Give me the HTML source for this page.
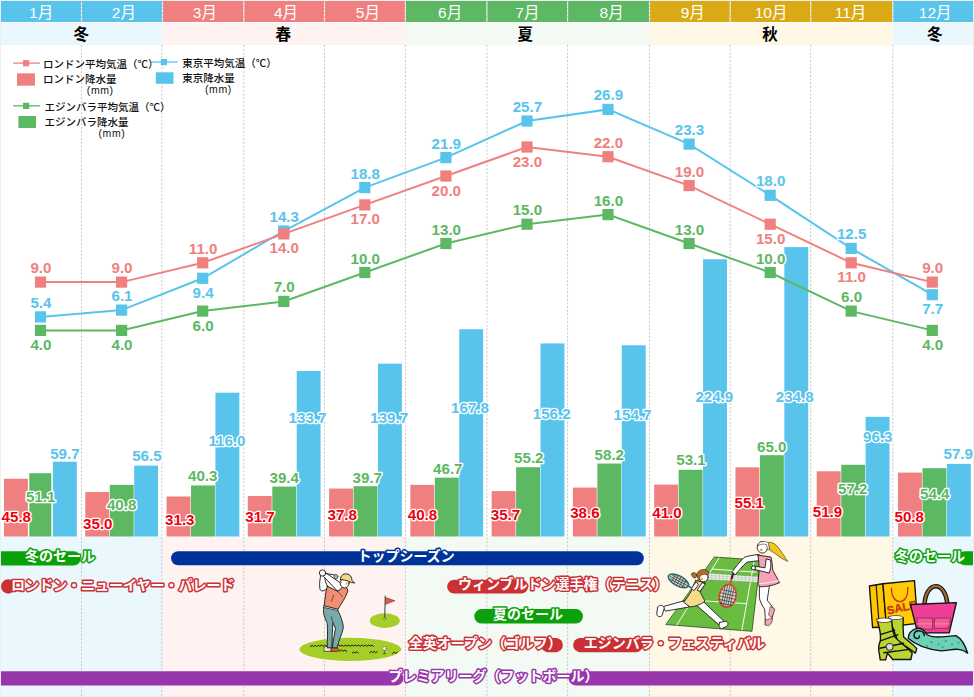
<!DOCTYPE html>
<html lang="ja">
<head>
<meta charset="utf-8">
<title>ロンドン・エジンバラ・東京 気温と降水量 / ベストシーズン</title>
<style>
html,body{margin:0;padding:0;background:#fff;}
body{width:974px;height:697px;overflow:hidden;font-family:"Liberation Sans",sans-serif;}
svg{display:block;}
</style>
</head>
<body>
<svg width="974" height="697" viewBox="0 0 974 697" role="img" aria-label="Monthly temperature and precipitation chart for London, Edinburgh and Tokyo with seasonal events">
<rect x="0" y="0" width="974" height="697" fill="#fff"/>
<rect x="1.0" y="1" width="161.6" height="21" fill="#58c4ec"/>
<rect x="1.0" y="23" width="161.6" height="22" fill="#eaf8fe"/>
<rect x="1.0" y="536.5" width="161.6" height="159.5" fill="#eaf8fe"/>
<rect x="162.6" y="1" width="242.8" height="21" fill="#f08080"/>
<rect x="162.6" y="23" width="242.8" height="22" fill="#fff3f2"/>
<rect x="162.6" y="536.5" width="242.8" height="159.5" fill="#fff3f2"/>
<rect x="405.4" y="1" width="244.2" height="21" fill="#5cb863"/>
<rect x="405.4" y="23" width="244.2" height="22" fill="#f3faf3"/>
<rect x="405.4" y="536.5" width="244.2" height="159.5" fill="#f3faf3"/>
<rect x="649.6" y="1" width="243.0" height="21" fill="#d9aa15"/>
<rect x="649.6" y="23" width="243.0" height="22" fill="#fff8e6"/>
<rect x="649.6" y="536.5" width="243.0" height="159.5" fill="#fff8e6"/>
<rect x="892.6" y="1" width="80.4" height="21" fill="#58c4ec"/>
<rect x="892.6" y="23" width="80.4" height="22" fill="#eaf8fe"/>
<rect x="892.6" y="536.5" width="80.4" height="159.5" fill="#eaf8fe"/>
<rect x="0" y="0" width="974" height="1" fill="#f1f1f1"/>
<rect x="0" y="0" width="1" height="697" fill="#eeeeee"/>
<rect x="973" y="0" width="1" height="697" fill="#eeeeee"/>
<rect x="0" y="696" width="974" height="1" fill="#eeeeee"/>
<line x1="81.5" y1="1" x2="81.5" y2="22" stroke="#fff" stroke-width="1.1"/>
<line x1="81.5" y1="1" x2="81.5" y2="22" stroke="#999" stroke-opacity=".5" stroke-width="1" stroke-dasharray="2 1.73"/>
<line x1="81.5" y1="45" x2="81.5" y2="696" stroke="#c6c6c6" stroke-width="1" stroke-dasharray="2 1.73"/>
<line x1="162.5" y1="1" x2="162.5" y2="22" stroke="#fff" stroke-width="1.1"/>
<line x1="162.5" y1="1" x2="162.5" y2="22" stroke="#999" stroke-opacity=".5" stroke-width="1" stroke-dasharray="2 1.73"/>
<line x1="161.9" y1="45" x2="161.9" y2="696" stroke="#c6c6c6" stroke-width="1" stroke-dasharray="2 1.73"/>
<line x1="243.8" y1="1" x2="243.8" y2="22" stroke="#fff" stroke-width="1.1"/>
<line x1="243.8" y1="1" x2="243.8" y2="22" stroke="#999" stroke-opacity=".5" stroke-width="1" stroke-dasharray="2 1.73"/>
<line x1="243.8" y1="45" x2="243.8" y2="696" stroke="#c6c6c6" stroke-width="1" stroke-dasharray="2 1.73"/>
<line x1="324.5" y1="1" x2="324.5" y2="22" stroke="#fff" stroke-width="1.1"/>
<line x1="324.5" y1="1" x2="324.5" y2="22" stroke="#999" stroke-opacity=".5" stroke-width="1" stroke-dasharray="2 1.73"/>
<line x1="324.5" y1="45" x2="324.5" y2="696" stroke="#c6c6c6" stroke-width="1" stroke-dasharray="2 1.73"/>
<line x1="405.4" y1="1" x2="405.4" y2="22" stroke="#fff" stroke-width="1.1"/>
<line x1="405.4" y1="1" x2="405.4" y2="22" stroke="#999" stroke-opacity=".5" stroke-width="1" stroke-dasharray="2 1.73"/>
<line x1="405.4" y1="45" x2="405.4" y2="696" stroke="#c6c6c6" stroke-width="1" stroke-dasharray="2 1.73"/>
<line x1="486.9" y1="1" x2="486.9" y2="22" stroke="#fff" stroke-width="1.1"/>
<line x1="486.9" y1="1" x2="486.9" y2="22" stroke="#999" stroke-opacity=".5" stroke-width="1" stroke-dasharray="2 1.73"/>
<line x1="486.9" y1="45" x2="486.9" y2="696" stroke="#c6c6c6" stroke-width="1" stroke-dasharray="2 1.73"/>
<line x1="567.6" y1="1" x2="567.6" y2="22" stroke="#fff" stroke-width="1.1"/>
<line x1="567.6" y1="1" x2="567.6" y2="22" stroke="#999" stroke-opacity=".5" stroke-width="1" stroke-dasharray="2 1.73"/>
<line x1="567.6" y1="45" x2="567.6" y2="696" stroke="#c6c6c6" stroke-width="1" stroke-dasharray="2 1.73"/>
<line x1="649.5" y1="1" x2="649.5" y2="22" stroke="#fff" stroke-width="1.1"/>
<line x1="649.5" y1="1" x2="649.5" y2="22" stroke="#999" stroke-opacity=".5" stroke-width="1" stroke-dasharray="2 1.73"/>
<line x1="649.5" y1="45" x2="649.5" y2="696" stroke="#c6c6c6" stroke-width="1" stroke-dasharray="2 1.73"/>
<line x1="730.2" y1="1" x2="730.2" y2="22" stroke="#fff" stroke-width="1.1"/>
<line x1="730.2" y1="1" x2="730.2" y2="22" stroke="#999" stroke-opacity=".5" stroke-width="1" stroke-dasharray="2 1.73"/>
<line x1="730.2" y1="45" x2="730.2" y2="696" stroke="#c6c6c6" stroke-width="1" stroke-dasharray="2 1.73"/>
<line x1="810.7" y1="1" x2="810.7" y2="22" stroke="#fff" stroke-width="1.1"/>
<line x1="810.7" y1="1" x2="810.7" y2="22" stroke="#999" stroke-opacity=".5" stroke-width="1" stroke-dasharray="2 1.73"/>
<line x1="810.7" y1="45" x2="810.7" y2="696" stroke="#c6c6c6" stroke-width="1" stroke-dasharray="2 1.73"/>
<line x1="892.8" y1="1" x2="892.8" y2="22" stroke="#fff" stroke-width="1.1"/>
<line x1="892.8" y1="1" x2="892.8" y2="22" stroke="#999" stroke-opacity=".5" stroke-width="1" stroke-dasharray="2 1.73"/>
<line x1="892.8" y1="45" x2="892.8" y2="696" stroke="#c6c6c6" stroke-width="1" stroke-dasharray="2 1.73"/>
<g font-family="'Liberation Sans', 'Noto Sans CJK JP', sans-serif" font-size="15.5px" fill="#fff">
<text x="29.05" y="17.9">1月</text>
<text x="111.85" y="17.9">2月</text>
<text x="192.85" y="17.9">3月</text>
<text x="273.95" y="17.9">4月</text>
<text x="355.85" y="17.9">5月</text>
<text x="438.05" y="17.9">6月</text>
<text x="515.35" y="17.9">7月</text>
<text x="599.55" y="17.9">8月</text>
<text x="680.75" y="17.9">9月</text>
<text x="754.65" y="17.9">10月</text>
<text x="834.75" y="17.9">11月</text>
<text x="918.85" y="17.9">12月</text>
</g>
<g font-family="'Liberation Sans', 'Noto Sans CJK JP', sans-serif" font-size="15.5px" font-weight="700" fill="#000">
<text x="73.55" y="39.8">冬</text>
<text x="275.55" y="39.8">春</text>
<text x="517.45" y="39.8">夏</text>
<text x="762.35" y="39.8">秋</text>
<text x="927.05" y="39.8">冬</text>
</g>
<rect x="4.00" y="478.73" width="23.9" height="57.77" fill="#f08080"/>
<rect x="29.30" y="473.24" width="22.0" height="63.26" fill="#5cb863"/>
<rect x="52.90" y="461.70" width="23.9" height="74.80" fill="#58c4ec"/>
<rect x="85.27" y="491.97" width="23.9" height="44.53" fill="#f08080"/>
<rect x="109.77" y="484.86" width="23.9" height="51.64" fill="#5cb863"/>
<rect x="134.17" y="465.62" width="23.9" height="70.88" fill="#58c4ec"/>
<rect x="166.54" y="496.50" width="23.9" height="40.00" fill="#f08080"/>
<rect x="191.04" y="485.47" width="23.9" height="51.03" fill="#5cb863"/>
<rect x="215.44" y="392.70" width="23.9" height="143.80" fill="#58c4ec"/>
<rect x="247.81" y="496.01" width="23.9" height="40.49" fill="#f08080"/>
<rect x="272.31" y="486.58" width="23.9" height="49.92" fill="#5cb863"/>
<rect x="296.71" y="371.01" width="23.9" height="165.49" fill="#58c4ec"/>
<rect x="329.08" y="488.54" width="23.9" height="47.96" fill="#f08080"/>
<rect x="353.58" y="486.21" width="23.9" height="50.29" fill="#5cb863"/>
<rect x="377.98" y="363.66" width="23.9" height="172.84" fill="#58c4ec"/>
<rect x="410.35" y="484.86" width="23.9" height="51.64" fill="#f08080"/>
<rect x="434.85" y="477.63" width="23.9" height="58.87" fill="#5cb863"/>
<rect x="459.25" y="329.22" width="23.9" height="207.28" fill="#58c4ec"/>
<rect x="491.62" y="491.11" width="23.9" height="45.39" fill="#f08080"/>
<rect x="516.12" y="467.21" width="23.9" height="69.29" fill="#5cb863"/>
<rect x="540.52" y="343.44" width="23.9" height="193.06" fill="#58c4ec"/>
<rect x="572.89" y="487.56" width="23.9" height="48.94" fill="#f08080"/>
<rect x="597.39" y="463.54" width="23.9" height="72.96" fill="#5cb863"/>
<rect x="621.79" y="345.28" width="23.9" height="191.22" fill="#58c4ec"/>
<rect x="654.16" y="484.61" width="23.9" height="51.89" fill="#f08080"/>
<rect x="678.66" y="469.79" width="23.9" height="66.71" fill="#5cb863"/>
<rect x="703.06" y="259.25" width="23.9" height="277.25" fill="#58c4ec"/>
<rect x="735.43" y="467.33" width="23.9" height="69.17" fill="#f08080"/>
<rect x="759.93" y="455.20" width="23.9" height="81.30" fill="#5cb863"/>
<rect x="784.33" y="247.11" width="23.9" height="289.39" fill="#58c4ec"/>
<rect x="816.70" y="471.26" width="23.9" height="65.24" fill="#f08080"/>
<rect x="841.20" y="464.76" width="23.9" height="71.74" fill="#5cb863"/>
<rect x="865.60" y="416.84" width="23.9" height="119.66" fill="#58c4ec"/>
<rect x="897.97" y="472.60" width="23.9" height="63.90" fill="#f08080"/>
<rect x="922.47" y="468.19" width="23.9" height="68.31" fill="#5cb863"/>
<rect x="946.87" y="463.90" width="23.9" height="72.60" fill="#58c4ec"/>
<polyline points="40.5,316.9 121.6,310.1 202.7,278.3 283.8,231.0 364.8,187.6 445.9,157.6 527.0,121.0 608.0,109.4 689.1,144.1 770.2,195.3 851.2,248.4 932.3,294.7" fill="none" stroke="#58c4ec" stroke-width="2"/>
<rect x="34.9" y="311.3" width="11.2" height="11.2" fill="#58c4ec"/>
<rect x="116.0" y="304.5" width="11.2" height="11.2" fill="#58c4ec"/>
<rect x="197.1" y="272.7" width="11.2" height="11.2" fill="#58c4ec"/>
<rect x="278.2" y="225.4" width="11.2" height="11.2" fill="#58c4ec"/>
<rect x="359.2" y="182.0" width="11.2" height="11.2" fill="#58c4ec"/>
<rect x="440.3" y="152.0" width="11.2" height="11.2" fill="#58c4ec"/>
<rect x="521.4" y="115.4" width="11.2" height="11.2" fill="#58c4ec"/>
<rect x="602.4" y="103.8" width="11.2" height="11.2" fill="#58c4ec"/>
<rect x="683.5" y="138.5" width="11.2" height="11.2" fill="#58c4ec"/>
<rect x="764.6" y="189.7" width="11.2" height="11.2" fill="#58c4ec"/>
<rect x="845.6" y="242.8" width="11.2" height="11.2" fill="#58c4ec"/>
<rect x="926.7" y="289.1" width="11.2" height="11.2" fill="#58c4ec"/>
<polyline points="40.5,330.4 121.6,330.4 202.7,311.1 283.8,301.4 364.8,272.5 445.9,243.5 527.0,224.2 608.0,214.6 689.1,243.5 770.2,272.5 851.2,311.1 932.3,330.4" fill="none" stroke="#5cb863" stroke-width="2"/>
<rect x="34.9" y="324.8" width="11.2" height="11.2" fill="#5cb863"/>
<rect x="116.0" y="324.8" width="11.2" height="11.2" fill="#5cb863"/>
<rect x="197.1" y="305.5" width="11.2" height="11.2" fill="#5cb863"/>
<rect x="278.2" y="295.8" width="11.2" height="11.2" fill="#5cb863"/>
<rect x="359.2" y="266.9" width="11.2" height="11.2" fill="#5cb863"/>
<rect x="440.3" y="237.9" width="11.2" height="11.2" fill="#5cb863"/>
<rect x="521.4" y="218.6" width="11.2" height="11.2" fill="#5cb863"/>
<rect x="602.4" y="209.0" width="11.2" height="11.2" fill="#5cb863"/>
<rect x="683.5" y="237.9" width="11.2" height="11.2" fill="#5cb863"/>
<rect x="764.6" y="266.9" width="11.2" height="11.2" fill="#5cb863"/>
<rect x="845.6" y="305.5" width="11.2" height="11.2" fill="#5cb863"/>
<rect x="926.7" y="324.8" width="11.2" height="11.2" fill="#5cb863"/>
<polyline points="40.5,282.1 121.6,282.1 202.7,262.8 283.8,233.9 364.8,204.9 445.9,176.0 527.0,147.0 608.0,156.7 689.1,185.6 770.2,224.2 851.2,262.8 932.3,282.1" fill="none" stroke="#f08080" stroke-width="2"/>
<rect x="34.9" y="276.5" width="11.2" height="11.2" fill="#f08080"/>
<rect x="116.0" y="276.5" width="11.2" height="11.2" fill="#f08080"/>
<rect x="197.1" y="257.2" width="11.2" height="11.2" fill="#f08080"/>
<rect x="278.2" y="228.3" width="11.2" height="11.2" fill="#f08080"/>
<rect x="359.2" y="199.3" width="11.2" height="11.2" fill="#f08080"/>
<rect x="440.3" y="170.4" width="11.2" height="11.2" fill="#f08080"/>
<rect x="521.4" y="141.4" width="11.2" height="11.2" fill="#f08080"/>
<rect x="602.4" y="151.1" width="11.2" height="11.2" fill="#f08080"/>
<rect x="683.5" y="180.0" width="11.2" height="11.2" fill="#f08080"/>
<rect x="764.6" y="218.6" width="11.2" height="11.2" fill="#f08080"/>
<rect x="845.6" y="257.2" width="11.2" height="11.2" fill="#f08080"/>
<rect x="926.7" y="276.5" width="11.2" height="11.2" fill="#f08080"/>
<g font-family="'Liberation Sans', sans-serif" font-weight="700" font-size="14px" text-anchor="middle">
<text transform="translate(64.9 458.6) scale(1.08 1)" fill="#58c4ec" stroke="#fff" stroke-width="2.6" stroke-linejoin="round" paint-order="stroke">59.7</text>
<text transform="translate(40.6 502.0) scale(1.08 1)" fill="#5cb863" stroke="#fff" stroke-width="2.6" stroke-linejoin="round" paint-order="stroke">51.1</text>
<text transform="translate(16.3 521.7) scale(1.08 1)" fill="#ee0011" stroke="#fff" stroke-width="2.6" stroke-linejoin="round" paint-order="stroke">45.8</text>
<text transform="translate(146.9 461.4) scale(1.08 1)" fill="#58c4ec" stroke="#fff" stroke-width="2.6" stroke-linejoin="round" paint-order="stroke">56.5</text>
<text transform="translate(121.6 510.3) scale(1.08 1)" fill="#5cb863" stroke="#fff" stroke-width="2.6" stroke-linejoin="round" paint-order="stroke">40.8</text>
<text transform="translate(97.8 529.0) scale(1.08 1)" fill="#ee0011" stroke="#fff" stroke-width="2.6" stroke-linejoin="round" paint-order="stroke">35.0</text>
<text transform="translate(227.0 446.0) scale(1.08 1)" fill="#58c4ec" stroke="#fff" stroke-width="2.6" stroke-linejoin="round" paint-order="stroke">116.0</text>
<text transform="translate(202.7 481.4) scale(1.08 1)" fill="#5cb863" stroke="#fff" stroke-width="2.6" stroke-linejoin="round" paint-order="stroke">40.3</text>
<text transform="translate(179.8 524.5) scale(1.08 1)" fill="#ee0011" stroke="#fff" stroke-width="2.6" stroke-linejoin="round" paint-order="stroke">31.3</text>
<text transform="translate(307.5 423.2) scale(1.08 1)" fill="#58c4ec" stroke="#fff" stroke-width="2.6" stroke-linejoin="round" paint-order="stroke">133.7</text>
<text transform="translate(284.2 483.3) scale(1.08 1)" fill="#5cb863" stroke="#fff" stroke-width="2.6" stroke-linejoin="round" paint-order="stroke">39.4</text>
<text transform="translate(260.0 521.8) scale(1.08 1)" fill="#ee0011" stroke="#fff" stroke-width="2.6" stroke-linejoin="round" paint-order="stroke">31.7</text>
<text transform="translate(389.2 423.2) scale(1.08 1)" fill="#58c4ec" stroke="#fff" stroke-width="2.6" stroke-linejoin="round" paint-order="stroke">139.7</text>
<text transform="translate(367.3 483.3) scale(1.08 1)" fill="#5cb863" stroke="#fff" stroke-width="2.6" stroke-linejoin="round" paint-order="stroke">39.7</text>
<text transform="translate(342.2 520.2) scale(1.08 1)" fill="#ee0011" stroke="#fff" stroke-width="2.6" stroke-linejoin="round" paint-order="stroke">37.8</text>
<text transform="translate(470.0 413.3) scale(1.08 1)" fill="#58c4ec" stroke="#fff" stroke-width="2.6" stroke-linejoin="round" paint-order="stroke">167.8</text>
<text transform="translate(447.8 474.0) scale(1.08 1)" fill="#5cb863" stroke="#fff" stroke-width="2.6" stroke-linejoin="round" paint-order="stroke">46.7</text>
<text transform="translate(422.5 520.2) scale(1.08 1)" fill="#ee0011" stroke="#fff" stroke-width="2.6" stroke-linejoin="round" paint-order="stroke">40.8</text>
<text transform="translate(551.7 419.0) scale(1.08 1)" fill="#58c4ec" stroke="#fff" stroke-width="2.6" stroke-linejoin="round" paint-order="stroke">156.2</text>
<text transform="translate(528.8 462.8) scale(1.08 1)" fill="#5cb863" stroke="#fff" stroke-width="2.6" stroke-linejoin="round" paint-order="stroke">55.2</text>
<text transform="translate(505.5 519.5) scale(1.08 1)" fill="#ee0011" stroke="#fff" stroke-width="2.6" stroke-linejoin="round" paint-order="stroke">35.7</text>
<text transform="translate(632.5 419.6) scale(1.08 1)" fill="#58c4ec" stroke="#fff" stroke-width="2.6" stroke-linejoin="round" paint-order="stroke">154.7</text>
<text transform="translate(609.3 460.2) scale(1.08 1)" fill="#5cb863" stroke="#fff" stroke-width="2.6" stroke-linejoin="round" paint-order="stroke">58.2</text>
<text transform="translate(584.9 517.9) scale(1.08 1)" fill="#ee0011" stroke="#fff" stroke-width="2.6" stroke-linejoin="round" paint-order="stroke">38.6</text>
<text transform="translate(714.3 402.0) scale(1.08 1)" fill="#58c4ec" stroke="#fff" stroke-width="2.6" stroke-linejoin="round" paint-order="stroke">224.9</text>
<text transform="translate(691.0 465.1) scale(1.08 1)" fill="#5cb863" stroke="#fff" stroke-width="2.6" stroke-linejoin="round" paint-order="stroke">53.1</text>
<text transform="translate(667.0 517.9) scale(1.08 1)" fill="#ee0011" stroke="#fff" stroke-width="2.6" stroke-linejoin="round" paint-order="stroke">41.0</text>
<text transform="translate(794.7 402.0) scale(1.08 1)" fill="#58c4ec" stroke="#fff" stroke-width="2.6" stroke-linejoin="round" paint-order="stroke">234.8</text>
<text transform="translate(771.7 451.7) scale(1.08 1)" fill="#5cb863" stroke="#fff" stroke-width="2.6" stroke-linejoin="round" paint-order="stroke">65.0</text>
<text transform="translate(749.2 507.5) scale(1.08 1)" fill="#ee0011" stroke="#fff" stroke-width="2.6" stroke-linejoin="round" paint-order="stroke">55.1</text>
<text transform="translate(877.8 442.0) scale(1.08 1)" fill="#58c4ec" stroke="#fff" stroke-width="2.6" stroke-linejoin="round" paint-order="stroke">96.3</text>
<text transform="translate(852.7 493.6) scale(1.08 1)" fill="#5cb863" stroke="#fff" stroke-width="2.6" stroke-linejoin="round" paint-order="stroke">57.2</text>
<text transform="translate(827.5 517.0) scale(1.08 1)" fill="#ee0011" stroke="#fff" stroke-width="2.6" stroke-linejoin="round" paint-order="stroke">51.9</text>
<text transform="translate(958.2 459.2) scale(1.08 1)" fill="#58c4ec" stroke="#fff" stroke-width="2.6" stroke-linejoin="round" paint-order="stroke">57.9</text>
<text transform="translate(934.8 499.1) scale(1.08 1)" fill="#5cb863" stroke="#fff" stroke-width="2.6" stroke-linejoin="round" paint-order="stroke">54.4</text>
<text transform="translate(909.2 521.6) scale(1.08 1)" fill="#ee0011" stroke="#fff" stroke-width="2.6" stroke-linejoin="round" paint-order="stroke">50.8</text>
<text transform="translate(40.9 307.9) scale(1.08 1)" fill="#58c4ec" stroke="#fff" stroke-width="2.6" stroke-linejoin="round" paint-order="stroke">5.4</text>
<text transform="translate(122.0 301.1) scale(1.08 1)" fill="#58c4ec" stroke="#fff" stroke-width="2.6" stroke-linejoin="round" paint-order="stroke">6.1</text>
<text transform="translate(203.1 297.8) scale(1.08 1)" fill="#58c4ec" stroke="#fff" stroke-width="2.6" stroke-linejoin="round" paint-order="stroke">9.4</text>
<text transform="translate(284.2 222.0) scale(1.08 1)" fill="#58c4ec" stroke="#fff" stroke-width="2.6" stroke-linejoin="round" paint-order="stroke">14.3</text>
<text transform="translate(365.2 178.6) scale(1.08 1)" fill="#58c4ec" stroke="#fff" stroke-width="2.6" stroke-linejoin="round" paint-order="stroke">18.8</text>
<text transform="translate(446.3 148.6) scale(1.08 1)" fill="#58c4ec" stroke="#fff" stroke-width="2.6" stroke-linejoin="round" paint-order="stroke">21.9</text>
<text transform="translate(527.4 112.0) scale(1.08 1)" fill="#58c4ec" stroke="#fff" stroke-width="2.6" stroke-linejoin="round" paint-order="stroke">25.7</text>
<text transform="translate(608.4 100.4) scale(1.08 1)" fill="#58c4ec" stroke="#fff" stroke-width="2.6" stroke-linejoin="round" paint-order="stroke">26.9</text>
<text transform="translate(689.5 135.1) scale(1.08 1)" fill="#58c4ec" stroke="#fff" stroke-width="2.6" stroke-linejoin="round" paint-order="stroke">23.3</text>
<text transform="translate(770.6 186.3) scale(1.08 1)" fill="#58c4ec" stroke="#fff" stroke-width="2.6" stroke-linejoin="round" paint-order="stroke">18.0</text>
<text transform="translate(851.6 239.4) scale(1.08 1)" fill="#58c4ec" stroke="#fff" stroke-width="2.6" stroke-linejoin="round" paint-order="stroke">12.5</text>
<text transform="translate(932.7 314.2) scale(1.08 1)" fill="#58c4ec" stroke="#fff" stroke-width="2.6" stroke-linejoin="round" paint-order="stroke">7.7</text>
<text transform="translate(40.9 349.9) scale(1.08 1)" fill="#5cb863" stroke="#fff" stroke-width="2.6" stroke-linejoin="round" paint-order="stroke">4.0</text>
<text transform="translate(122.0 349.9) scale(1.08 1)" fill="#5cb863" stroke="#fff" stroke-width="2.6" stroke-linejoin="round" paint-order="stroke">4.0</text>
<text transform="translate(203.1 330.6) scale(1.08 1)" fill="#5cb863" stroke="#fff" stroke-width="2.6" stroke-linejoin="round" paint-order="stroke">6.0</text>
<text transform="translate(284.2 292.4) scale(1.08 1)" fill="#5cb863" stroke="#fff" stroke-width="2.6" stroke-linejoin="round" paint-order="stroke">7.0</text>
<text transform="translate(365.2 263.5) scale(1.08 1)" fill="#5cb863" stroke="#fff" stroke-width="2.6" stroke-linejoin="round" paint-order="stroke">10.0</text>
<text transform="translate(446.3 234.5) scale(1.08 1)" fill="#5cb863" stroke="#fff" stroke-width="2.6" stroke-linejoin="round" paint-order="stroke">13.0</text>
<text transform="translate(527.4 215.2) scale(1.08 1)" fill="#5cb863" stroke="#fff" stroke-width="2.6" stroke-linejoin="round" paint-order="stroke">15.0</text>
<text transform="translate(608.4 205.6) scale(1.08 1)" fill="#5cb863" stroke="#fff" stroke-width="2.6" stroke-linejoin="round" paint-order="stroke">16.0</text>
<text transform="translate(689.5 234.5) scale(1.08 1)" fill="#5cb863" stroke="#fff" stroke-width="2.6" stroke-linejoin="round" paint-order="stroke">13.0</text>
<text transform="translate(770.6 263.5) scale(1.08 1)" fill="#5cb863" stroke="#fff" stroke-width="2.6" stroke-linejoin="round" paint-order="stroke">10.0</text>
<text transform="translate(851.6 302.1) scale(1.08 1)" fill="#5cb863" stroke="#fff" stroke-width="2.6" stroke-linejoin="round" paint-order="stroke">6.0</text>
<text transform="translate(932.7 349.9) scale(1.08 1)" fill="#5cb863" stroke="#fff" stroke-width="2.6" stroke-linejoin="round" paint-order="stroke">4.0</text>
<text transform="translate(40.9 273.1) scale(1.08 1)" fill="#f08080" stroke="#fff" stroke-width="2.6" stroke-linejoin="round" paint-order="stroke">9.0</text>
<text transform="translate(122.0 273.1) scale(1.08 1)" fill="#f08080" stroke="#fff" stroke-width="2.6" stroke-linejoin="round" paint-order="stroke">9.0</text>
<text transform="translate(203.1 253.8) scale(1.08 1)" fill="#f08080" stroke="#fff" stroke-width="2.6" stroke-linejoin="round" paint-order="stroke">11.0</text>
<text transform="translate(284.2 253.4) scale(1.08 1)" fill="#f08080" stroke="#fff" stroke-width="2.6" stroke-linejoin="round" paint-order="stroke">14.0</text>
<text transform="translate(365.2 224.4) scale(1.08 1)" fill="#f08080" stroke="#fff" stroke-width="2.6" stroke-linejoin="round" paint-order="stroke">17.0</text>
<text transform="translate(446.3 195.5) scale(1.08 1)" fill="#f08080" stroke="#fff" stroke-width="2.6" stroke-linejoin="round" paint-order="stroke">20.0</text>
<text transform="translate(527.4 166.5) scale(1.08 1)" fill="#f08080" stroke="#fff" stroke-width="2.6" stroke-linejoin="round" paint-order="stroke">23.0</text>
<text transform="translate(608.4 147.7) scale(1.08 1)" fill="#f08080" stroke="#fff" stroke-width="2.6" stroke-linejoin="round" paint-order="stroke">22.0</text>
<text transform="translate(689.5 176.6) scale(1.08 1)" fill="#f08080" stroke="#fff" stroke-width="2.6" stroke-linejoin="round" paint-order="stroke">19.0</text>
<text transform="translate(770.6 243.7) scale(1.08 1)" fill="#f08080" stroke="#fff" stroke-width="2.6" stroke-linejoin="round" paint-order="stroke">15.0</text>
<text transform="translate(851.6 282.3) scale(1.08 1)" fill="#f08080" stroke="#fff" stroke-width="2.6" stroke-linejoin="round" paint-order="stroke">11.0</text>
<text transform="translate(932.7 273.1) scale(1.08 1)" fill="#f08080" stroke="#fff" stroke-width="2.6" stroke-linejoin="round" paint-order="stroke">9.0</text>
</g>
<line x1="13.2" y1="63.1" x2="40" y2="63.1" stroke="#f08080" stroke-width="1.3"/><rect x="23" y="60.1" width="6.2" height="6.2" fill="#f08080"/>
<rect x="17" y="73.3" width="18" height="12.4" fill="#f08080"/>
<line x1="151.2" y1="62" x2="177.8" y2="62" stroke="#58c4ec" stroke-width="1.3"/><rect x="160.8" y="59" width="6.2" height="6.2" fill="#58c4ec"/>
<rect x="155.8" y="72.3" width="17.7" height="11.5" fill="#58c4ec"/>
<line x1="13.2" y1="105.8" x2="40" y2="105.8" stroke="#5cb863" stroke-width="1.3"/><rect x="23" y="102.8" width="6.2" height="6.2" fill="#5cb863"/>
<rect x="18.4" y="116" width="17.6" height="12" fill="#5cb863"/>
<g font-family="'Liberation Sans', 'Noto Sans CJK JP', sans-serif" font-size="10.5px" font-weight="500" fill="#111">
<text x="43" y="68.3">ロンドン平均気温（℃）</text>
<text x="43" y="83.4">ロンドン降水量</text>
<text x="182.3" y="67.2">東京平均気温（℃）</text>
<text x="182.3" y="82.2">東京降水量</text>
<text x="44.5" y="110.9">エジンバラ平均気温（℃）</text>
<text x="44.5" y="126">エジンバラ降水量</text>
<text x="86.82" y="94.4" letter-spacing="0.6">(mm)</text>
<text x="205.02" y="93.2" letter-spacing="0.6">(mm)</text>
<text x="98.52" y="137" letter-spacing="0.6">(mm)</text>
</g>
<path d="M1.0 671.2H396.3A7.1 7.1 0 0 1 396.3 685.4H1.0V671.2Z" fill="#9835ab"/>
<path d="M575.6 671.2H973.0V685.4H575.6A7.1 7.1 0 0 1 575.6 671.2Z" fill="#9835ab"/>
<path d="M1.0 551.3H73.7A7.1 7.1 0 0 1 73.7 565.5H1.0V551.3Z" fill="#0ba10b"/>
<path d="M178.1 551.3H636.8A7.0 7.0 0 0 1 636.8 565.3H178.1A7.0 7.0 0 0 1 178.1 551.3Z" fill="#003399"/>
<path d="M964.9 551.3H973.0V565.3H964.9A7.0 7.0 0 0 1 964.9 551.3Z" fill="#0ba10b"/>
<circle cx="8.2" cy="586.5" r="7.2" fill="#cd3034"/>
<path d="M454.1 579.7H521.2A6.9 6.9 0 0 1 521.2 593.6H454.1A6.9 6.9 0 0 1 454.1 579.7Z" fill="#cd3034"/>
<path d="M481.5 609.1H575.8A7.2 7.2 0 0 1 575.8 623.5H481.5A7.2 7.2 0 0 1 481.5 609.1Z" fill="#0ba10b"/>
<path d="M547.2 637.9H556.5A7.2 7.2 0 0 1 556.5 652.2H547.2A7.2 7.2 0 0 1 547.2 637.9Z" fill="#cd3034"/>
<path d="M579.5 637.9H636.8A7.2 7.2 0 0 1 636.8 652.2H579.5A7.2 7.2 0 0 1 579.5 637.9Z" fill="#cd3034"/>
<g id="golf" transform="translate(290 560) scale(0.1579)" stroke-linejoin="round" stroke-linecap="round" role="img" aria-label="golfer illustration">
<ellipse cx="382" cy="566" rx="322" ry="73" fill="#a6ce28"/>
<ellipse cx="600" cy="384" rx="95" ry="46" fill="#a6ce28"/>
<path d="M130 548l12-8 8 9 10-10 9 9 11-9 8 8 12-9 9 10 10-9 10 8 11-9 9 9 12-8 14 8 12-9 10 9 11-9 10 8 12-8 9 9 11-9 10 8 12-8 10 9 11-9 9 8 12-8 10 8 11-8 10 9 12-9 9 8 11-8 10 8 12-8 10 8 10-7 10 8" fill="none" stroke="#111" stroke-width="6"/>
<path d="M215 578l10-8 8 8 10-9 9 9 10-8 9 8 10-9 9 9 12-8 10 8 12-9 10 9 14-8 12 10M395 590l10-9 8 8 10-8 9 9M505 588l10-9 8 8 10-9 9 9 10-7M650 592l10-9 9 8 9-7" fill="none" stroke="#111" stroke-width="6"/>
<path d="M603 228L600 372" stroke="#333" stroke-width="6" fill="none"/>
<path d="M607 238L665 258L607 281Z" fill="#f0553a" stroke="#333" stroke-width="3"/>
<ellipse cx="598" cy="371" rx="9" ry="5" fill="#fff" stroke="#333" stroke-width="3"/>
<path d="M598 572V592M590 594h16" stroke="#333" stroke-width="4" fill="none"/>
<circle cx="598" cy="560" r="12" fill="#fff" stroke="#444" stroke-width="3"/>
<!-- shoes -->
<path d="M222 548C210 560 212 578 228 580L262 578L262 552Z" fill="#f4e3c8" stroke="#222" stroke-width="4"/>
<path d="M262 556L300 556C312 566 312 578 296 580L262 578Z" fill="#d9603f" stroke="#222" stroke-width="4"/>
<!-- trousers -->
<path d="M214 298L302 316C318 350 336 392 338 428C330 470 308 510 298 556L268 556C272 520 282 470 288 432L272 398C268 440 266 500 266 556L236 556C236 500 240 450 236 402C222 370 206 340 214 298Z" fill="#78aaac" stroke="#222" stroke-width="6"/>
<path d="M272 398L262 360" stroke="#222" stroke-width="4" fill="none"/>
<!-- belt -->
<path d="M216 288L304 308L302 320L213 300Z" fill="#fff" stroke="#222" stroke-width="4"/>
<!-- far arm -->
<path d="M236 182C216 196 196 202 190 186C184 150 190 118 196 96L218 92C222 120 222 150 240 168Z" fill="#fff" stroke="#222" stroke-width="6"/>
<!-- shirt -->
<path d="M236 166L296 196L336 152C352 160 364 178 366 198C352 240 322 280 304 312L216 290C222 250 226 200 236 166Z" fill="#f18f74" stroke="#222" stroke-width="6"/>
<path d="M262 262L276 224M300 196L332 232" stroke="#222" stroke-width="4" fill="none"/>
<!-- near arm -->
<path d="M300 196L212 104L230 84L338 158C332 176 318 190 300 196Z" fill="#fff" stroke="#222" stroke-width="6"/>
<!-- hands & club -->
<path d="M222 84L286 96" stroke="#222" stroke-width="6" fill="none"/>
<ellipse cx="291" cy="106" rx="12" ry="14" fill="#bbb" stroke="#222" stroke-width="4"/>
<circle cx="206" cy="82" r="20" fill="#fff" stroke="#222" stroke-width="6"/>
<!-- head -->
<ellipse cx="346" cy="146" rx="28" ry="31" fill="#fff" stroke="#222" stroke-width="6"/>
<path d="M322 128l10 18-14 2ZM352 140l14 10-12 8Z" fill="#f0951e"/>
<path d="M320 124C316 96 344 82 368 90C388 98 392 116 392 128L410 146L388 142C366 132 340 124 320 124Z" fill="#efd68c" stroke="#222" stroke-width="6"/>
</g>
<g id="tennis" transform="translate(640 535) scale(0.1866)" stroke-linejoin="round" stroke-linecap="round" role="img" aria-label="tennis players illustration">
<path d="M400 118L645 135L600 516L140 480Z" fill="#6abc40" stroke="#1d3d14" stroke-width="4"/>
<path d="M423 124L196 484M612 138L546 510M390 183L622 199M298 350L572 368" stroke="#fff" stroke-width="5" fill="none"/>
<path d="M365 204L632 222L632 254L362 240Z" fill="#eef3ea" stroke="#666" stroke-width="2"/>
<path d="M364 216L632 234M363 228L632 244M385 206v34M405 207v34M425 208v34M445 210v34M465 211v34M485 212v34M505 214v34M525 215v34M545 216v34M565 218v34M585 219v34M605 220v34" stroke="#8a8" stroke-width="2" fill="none"/>
<!-- left girl legs -->
<path d="M246 352L262 386L136 408L124 386Z" fill="#fff" stroke="#222" stroke-width="5"/>
<path d="M96 384C108 372 128 376 130 392L118 432C104 444 88 436 90 420Z" fill="#fff" stroke="#222" stroke-width="5"/>
<path d="M300 372L336 354L456 468L436 490Z" fill="#fff" stroke="#222" stroke-width="5"/>
<path d="M428 468L462 462C476 470 474 486 460 492L436 502C422 496 420 480 428 468Z" fill="#fff" stroke="#222" stroke-width="5"/>
<!-- racket left -->
<g transform="rotate(28 206 246)"><ellipse cx="206" cy="246" rx="60" ry="27" fill="#c9cfcd" stroke="#2b6f6f" stroke-width="8"/>
<path d="M156 246h100M162 234h88M162 258h88M176 224v44M192 221v50M208 220v52M224 221v50M240 225v42" stroke="#222" stroke-width="3" fill="none"/></g>
<path d="M256 272L294 294" stroke="#2b6f6f" stroke-width="8" fill="none"/>
<!-- left girl dress -->
<path d="M298 244L348 256C340 280 326 298 322 306C332 326 342 340 348 356C322 374 294 384 268 386L234 360C252 338 268 314 276 298C282 280 290 260 298 244Z" fill="#f7da8c" stroke="#222" stroke-width="5"/>
<path d="M300 252L274 288L290 298L312 268ZM350 262L322 302L306 296L332 258Z" fill="#fff" stroke="#222" stroke-width="5"/>
<!-- left girl head -->
<path d="M276 210C280 196 300 200 306 214L296 232C284 230 276 222 276 210Z" fill="#b86a24" stroke="#222" stroke-width="3"/>
<ellipse cx="340" cy="226" rx="25" ry="25" fill="#fff" stroke="#222" stroke-width="5"/>
<path d="M304 218C302 190 336 176 360 190C372 198 370 212 364 216C346 206 326 208 314 236C308 232 304 226 304 218Z" fill="#b86a24" stroke="#222" stroke-width="3"/>
<circle cx="330" cy="236" r="7" fill="#f59a3c"/>
<!-- right girl legs -->
<path d="M642 272L694 268C690 300 684 330 682 350C700 372 716 392 718 404L702 470L672 482C672 450 670 420 668 398C654 378 642 352 640 338Z" fill="#fff" stroke="#222" stroke-width="5"/>
<path d="M700 384L722 396C718 416 712 432 704 442L690 430Z" fill="#f5a3b5" stroke="#222" stroke-width="3"/>
<path d="M672 456L708 446C712 462 704 478 690 486L672 482Z" fill="#f5a3b5" stroke="#222" stroke-width="3"/>
<!-- right girl racket -->
<g transform="rotate(12 470 326)"><ellipse cx="470" cy="326" rx="45" ry="62" fill="#d4d4d0" stroke="#dc4a2a" stroke-width="9"/>
<path d="M432 300h76M428 318h84M427 336h86M430 354h80M438 372h64M446 278v98M458 270v112M470 266v120M482 270v112M494 278v98" stroke="#222" stroke-width="3" fill="none"/></g>
<path d="M482 266L496 214" stroke="#dc4a2a" stroke-width="10" fill="none"/>
<path d="M492 232L499 206" stroke="#222" stroke-width="10" fill="none"/>
<!-- right girl arm (extended) -->
<path d="M636 104C606 108 580 112 558 120C534 144 512 172 494 196L510 214C530 190 552 164 572 146C594 142 616 140 638 138Z" fill="#fff" stroke="#222" stroke-width="5"/>
<!-- dress -->
<path d="M632 108L702 118C708 146 710 170 712 190C726 214 738 236 748 256C714 270 676 278 640 278C634 262 632 250 634 236C640 200 640 150 632 108Z" fill="#f5a3b5" stroke="#222" stroke-width="5"/>
<path d="M636 262C672 260 710 252 742 244" stroke="#fff" stroke-width="4" fill="none"/>
<path d="M700 136C704 160 700 184 692 204L612 184L606 166L670 176L676 130Z" fill="#fff" stroke="#222" stroke-width="5"/>
<circle cx="608" cy="176" r="11" fill="#fff" stroke="#222" stroke-width="5"/>
<!-- head -->
<path d="M684 40C730 30 752 84 792 142C752 126 728 98 700 84Z" fill="#f3c41c" stroke="#222" stroke-width="3"/>
<ellipse cx="656" cy="66" rx="28" ry="31" fill="#fff" stroke="#222" stroke-width="5"/>
<path d="M634 46C644 32 676 30 688 44L694 78L684 80L678 52C664 46 648 48 636 56Z" fill="#fff" stroke="#222" stroke-width="3"/>
<circle cx="650" cy="80" r="7" fill="#f59a3c"/>
</g>
<g id="shopping" transform="translate(850 540) scale(0.22545)" stroke-linejoin="round" stroke-linecap="round" role="img" aria-label="sale shopping illustration">
<path d="M86 204L146 194L162 386L100 388Z" fill="#ffc600" stroke="#111" stroke-width="6"/>
<path d="M146 194L286 180L300 370L162 386Z" fill="#ffcb05" stroke="#111" stroke-width="6"/>
<path d="M116 200L130 386" stroke="#111" stroke-width="5" fill="none"/>
<path d="M184 214C184 296 262 292 256 210" stroke="#c8321a" stroke-width="6" fill="none"/>
<text x="168" y="330" transform="rotate(-12 168 330)" font-family="'Liberation Sans', sans-serif" font-weight="700" font-size="50" fill="#e23b1a" stroke="#a52a10" stroke-width="1.5">SALE</text>
<!-- pink bag -->
<path d="M330 292C334 176 426 176 432 290" stroke="#111" stroke-width="20" fill="none"/>
<path d="M330 292C334 176 426 176 432 290" stroke="#a06a34" stroke-width="10" fill="none"/>
<path d="M268 286L472 278L440 412L300 412Z" fill="#ee3f97" stroke="#111" stroke-width="6"/>
<path d="M298 346H366V396H304ZM376 346H446L436 392H376Z" fill="#f2579f" stroke="#7a1a4a" stroke-width="3"/>
<path d="M300 372H364M378 372H440" stroke="#f5d23c" stroke-width="5" stroke-dasharray="1 9" fill="none"/>
<!-- scarf -->
<path d="M258 436C262 392 316 376 334 412C352 436 400 432 470 424C500 440 514 476 522 502C484 470 440 492 404 492C350 486 296 470 258 436Z" fill="#6fd0b8" stroke="#111" stroke-width="6"/>
<path d="M330 424C326 396 286 396 284 422C284 440 308 442 308 426" stroke="#111" stroke-width="6" fill="none"/>
<path d="M360 452h2M392 462h2M424 448h2M452 462h2M480 456h2M340 470h2M410 476h2" stroke="#3aa890" stroke-width="9" fill="none"/>
<!-- boots -->
<path d="M172 342L236 346C234 380 236 410 238 430C262 452 284 466 296 482L290 502L248 472L220 470Z" fill="#b9d532" stroke="#111" stroke-width="6"/>
<ellipse cx="204" cy="344" rx="33" ry="9" fill="#fff" stroke="#222" stroke-width="3"/>
<path d="M120 352L186 362C186 396 192 416 200 432C226 458 258 478 276 502L270 530L190 530L166 502L158 532L134 532C132 508 124 488 128 468C142 440 136 410 120 352Z" fill="#b9d532" stroke="#111" stroke-width="6"/>
<ellipse cx="152" cy="356" rx="34" ry="10" fill="#fff" stroke="#222" stroke-width="3"/>
<path d="M134 420L198 400M138 446L212 420M132 480L238 458M150 500L256 486" stroke="#111" stroke-width="6" fill="none"/>
<circle cx="176" cy="474" r="15" fill="#ddd" stroke="#444" stroke-width="5"/>
</g>

<g font-family="'Liberation Sans', 'Noto Sans CJK JP', sans-serif" font-size="14px" font-weight="700" fill="#fff" stroke-width="3" stroke-linejoin="round" paint-order="stroke">
<text x="24.9" y="560.6" stroke="#0ba10b">冬のセール</text>
<text x="895.1" y="560.6" stroke="#0ba10b">冬のセール</text>
<text x="357.4" y="561.2" stroke="#003399">トップシーズン</text>
<text x="11" y="589.6" stroke="#cd3034">ロンドン・ニューイヤー・パレード</text>
<text x="457.9" y="589.3" stroke="#cd3034">ウィンブルドン選手権（テニス）</text>
<text x="493" y="619.3" stroke="#0ba10b">夏のセール</text>
<text x="408.7" y="648.2" stroke="#cd3034">全英オープン（ゴルフ）</text>
<text x="583.7" y="648.2" stroke="#cd3034">エジンバラ・フェスティバル</text>
<text x="388.4" y="681" stroke="#9835ab">プレミアリーグ（フットボール）</text>
</g>
</svg>
</body>
</html>
